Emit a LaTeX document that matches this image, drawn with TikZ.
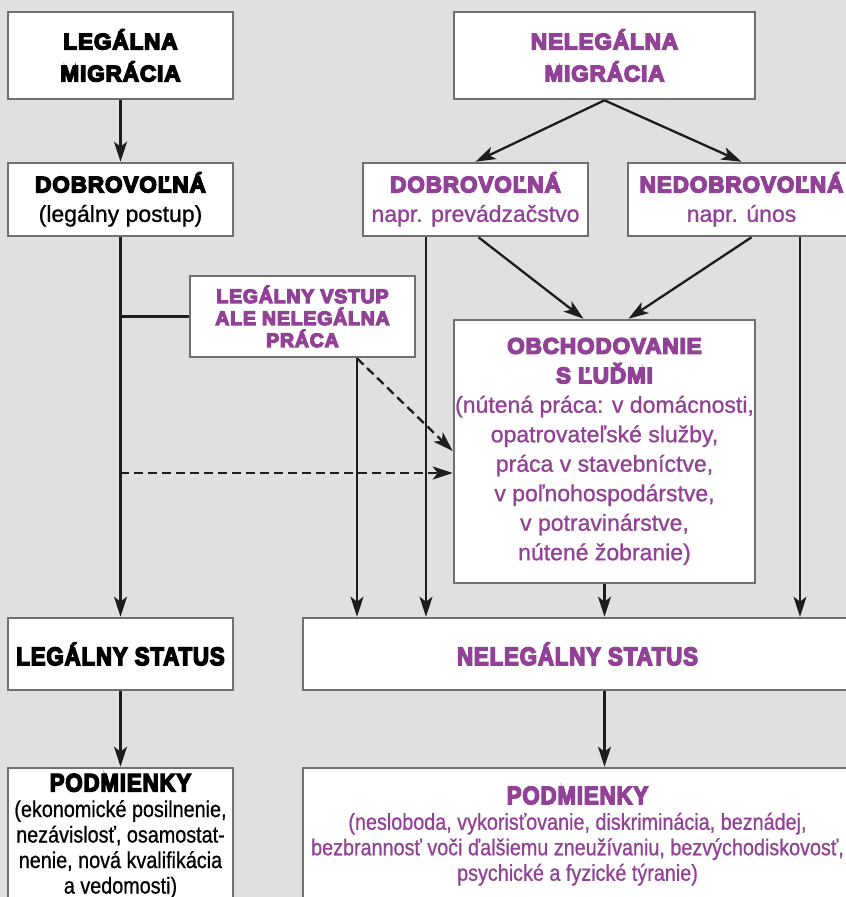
\documentclass[tikz,border=0pt]{standalone}
\usepackage{fontspec}
\setmainfont{Liberation Sans}
\newfontfamily\heavy[FakeBold=6.5,LetterSpace=4]{Liberation Sans}
\newfontfamily\heavycond[FakeBold=5.5,FakeStretch=0.87,LetterSpace=3.5]{Liberation Sans}
\newfontfamily\body[FakeBold=1]{Liberation Sans}
\newfontfamily\cond[FakeStretch=0.86,FakeBold=0.8]{Liberation Sans}
\usetikzlibrary{arrows.meta,calc}
\definecolor{bg}{RGB}{224,224,224}
\definecolor{boxgray}{RGB}{112,112,112}
\definecolor{linecol}{RGB}{30,28,30}
\definecolor{purp}{RGB}{146,66,150}
\newcommand{\hd}{\heavy\bfseries\fontsize{22.5}{32}\selectfont}
\newcommand{\hdsm}{\heavy\bfseries\fontsize{19.5}{22}\selectfont}
\newcommand{\bd}{\body\fontsize{23}{29.5}\selectfont}
\newcommand{\hdc}{\heavycond\bfseries\fontsize{25.5}{30}\selectfont}
\newcommand{\bdc}{\cond\fontsize{23}{25.5}\selectfont}
\begin{document}
\begin{tikzpicture}[x=1pt,y=-1pt,
  box/.style={draw=boxgray, line width=2.6pt, fill=white, inner sep=0pt, align=center},
  plain/.style={inner sep=0pt, align=center},
  arr/.style={draw=linecol, line width=2.3pt, -{Stealth[length=20pt,width=13pt,inset=5pt]}},
  ln/.style={draw=linecol, line width=2.3pt},
  dsh/.style={arr, dash pattern=on 9pt off 5pt}]
\useasboundingbox (0,0) rectangle (846,897);
\clip (0,0) rectangle (846,897);
\fill[bg] (0,0) rectangle (846,897);

% top boxes
\node[box, minimum width=225pt, minimum height=87pt, font=\hd] (legmig) at (120.5,55.5) {LEGÁLNA\\MIGRÁCIA};
\node[box, minimum width=301pt, minimum height=87pt, font=\hd, text=purp] (nelegmig) at (604.5,55.5) {NELEGÁLNA\\MIGRÁCIA};

\node[box, minimum width=225pt, minimum height=73pt, font=\bd] (dobL) at (120.5,199.5) {{\hd DOBROVOĽNÁ}\\(legálny postup)};
\node[box, minimum width=225pt, minimum height=73pt, font=\bd, text=purp] (dobM) at (475.5,199.5) {{\hd DOBROVOĽNÁ}\\napr. prevádzačstvo};
\node[box, minimum width=227pt, minimum height=73pt, font=\bd, text=purp] (nedob) at (741.5,199.5) {{\hd NEDOBROVOĽNÁ}\\napr. únos};

\node[box, minimum width=225pt, minimum height=81pt, font=\hdsm, text=purp] (vstup) at (302.5,316.5) {LEGÁLNY VSTUP\\ALE NELEGÁLNA\\PRÁCA};

\node[box, minimum width=301pt, minimum height=263pt, font=\bd, text=purp] (obch) at (604.5,451.5)
 {{\hd OBCHODOVANIE}\\{\hd S ĽUĎMI}\\(nútená práca: v domácnosti,\\opatrovateľské služby,\\práca v stavebníctve,\\v poľnohospodárstve,\\v potravinárstve,\\nútené žobranie)};

\node[box, minimum width=225pt, minimum height=72pt, font=\hdc] (legst) at (120.5,654) {LEGÁLNY STATUS};
\node[box, minimum width=549pt, minimum height=72pt, font=\hdc, text=purp] (nelegst) at (577.5,654) {NELEGÁLNY STATUS};

\node[box, minimum width=225pt, minimum height=170pt] (podL) at (120.5,853) {};
\node[box, minimum width=549pt, minimum height=170pt] (podR) at (577.5,853) {};
\node[plain, font=\bdc] (podLt) at (120.5,836) {{\hdc PODMIENKY}\\(ekonomické posilnenie,\\nezávislosť, osamostat-\\nenie, nová kvalifikácia\\a vedomosti)};
\node[plain, font=\bdc, text=purp] (podRt) at (577.5,836) {{\hdc PODMIENKY}\\(nesloboda, vykorisťovanie, diskriminácia, beznádej,\\bezbrannosť voči ďalšiemu zneužívaniu, bezvýchodiskovosť,\\psychické a fyzické týranie)};

% lanes
\coordinate (xa) at (357,0);
\coordinate (xb) at (426,0);
\coordinate (xc) at (800,0);
\coordinate (xd) at (604.5,0);
\coordinate (dh) at (120,473);
\coordinate (yd) at (0,451);

% connectors
\draw[arr] (legmig.south) -- (dobL.north);
\draw[arr] (nelegmig.south) -- (dobM.north);
\draw[arr] (nelegmig.south) -- (nedob.north);
\draw[arr] (dobL.south) -- (legst.north);
\draw[ln] (vstup.west) -- (vstup.west -| dobL.south);
\draw[arr] (vstup.south -| xa) -- (nelegst.north -| xa);
\draw[arr] (dobM.south -| xb) -- (nelegst.north -| xb);
\draw[arr] (nedob.south -| xc) -- (nelegst.north -| xc);
\draw[arr] ($(dobM.south)+(3,0)$) -- ($(obch.north)+(-21,0)$);
\draw[arr] ($(nedob.south)+(10,0)$) -- ($(obch.north)+(24,0)$);
\draw[arr] (obch.south) -- (nelegst.north -| xd);
\draw[dsh] (dh) -- (dh -| obch.west);
\draw[dsh] (vstup.south -| xa) -- (obch.west |- yd);
\draw[arr] (legst.south) -- (podL.north);
\draw[arr] (nelegst.south -| xd) -- (podR.north -| xd);
\end{tikzpicture}
\end{document}
